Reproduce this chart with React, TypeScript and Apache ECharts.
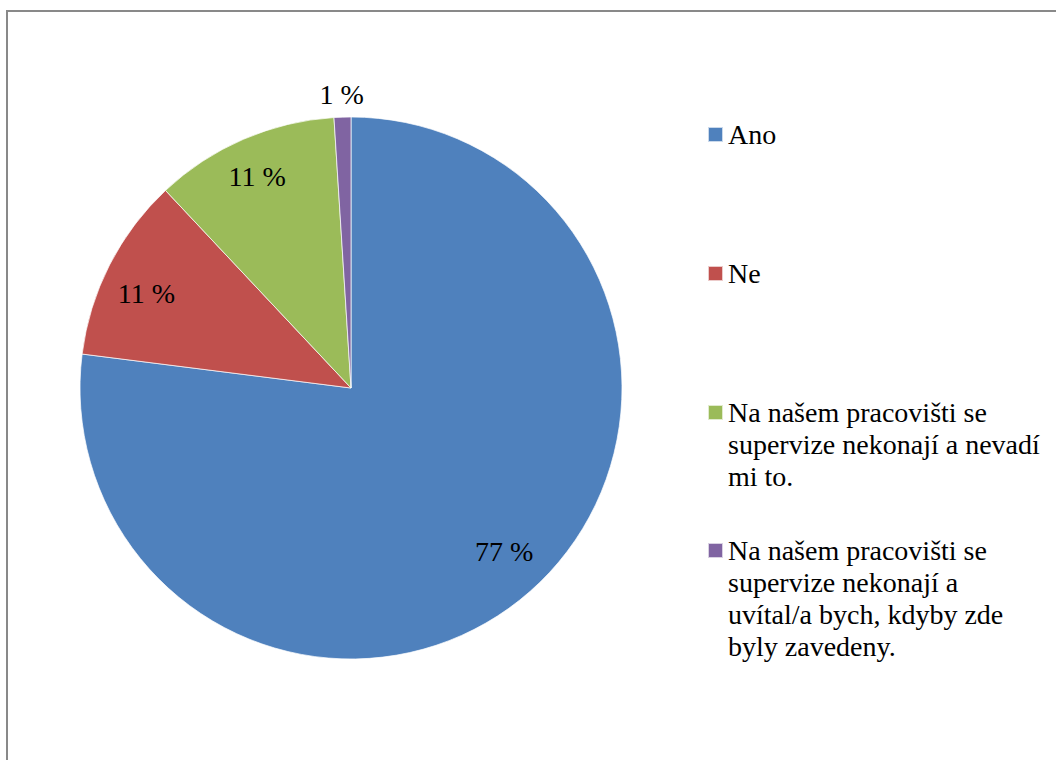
import React, { useEffect, useRef } from "react";
import * as echarts from "echarts";

const categories = [
  "Ano",
  "Ne",
  "Na našem pracovišti se supervize nekonají a nevadí mi to.",
  "Na našem pracovišti se supervize nekonají a uvítal/a bych, kdyby zde byly zavedeny.",
];
const values = [77, 11, 11, 1];
const colors = ["#4F81BD", "#C0504D", "#9BBB59", "#8064A2"];
const legendLines = [
  ["Ano"],
  ["Ne"],
  ["Na našem pracovišti se", "supervize nekonají a nevadí", "mi to."],
  ["Na našem pracovišti se", "supervize nekonají a", "uvítal/a bych, kdyby zde", "byly zavedeny."],
];
// which slices get their label outside the pie
const outsideLabel = [false, false, false, true];

const FONT = "Liberation Serif, Times New Roman, serif";
const FONT_SIZE = 28;
const LINE_H = 32;

export default function App() {
  const ref = useRef<HTMLDivElement>(null);

  useEffect(() => {
    if (!ref.current) return;
    const chart = echarts.init(ref.current, undefined, { renderer: "svg" });

    const cx = 351;
    const cy = 388;
    const R = 271;
    const legendIconCenters = [134.5, 273.5, 412.5, 550.5];
    // small nudges of the data labels (best-fit placement of the original)
    const labelNudge = [
      [2, -8],
      [-1, 9],
      [-3, -2],
      [0, 0],
    ];

    const legends = categories.map((name, i) => {
      const n = legendLines[i].length;
      const h = (2 * n - 1) * LINE_H;
      // blank lines above keep the marker level with the first text line
      const text = new Array(n - 1).fill(" ").concat(legendLines[i]).join("\n");
      return {
        orient: "vertical",
        left: 707,
        top: legendIconCenters[i] - h / 2,
        padding: 0,
        itemWidth: 15,
        itemHeight: 15,
        icon: "rect",
        selectedMode: false,
        data: [{ name, itemStyle: { color: colors[i] } }],
        formatter: () => text,
        textStyle: {
          fontFamily: FONT,
          fontSize: FONT_SIZE,
          lineHeight: LINE_H,
          color: "#000",
        },
      };
    });

    const labelStyle = {
      fontFamily: FONT,
      fontSize: FONT_SIZE,
      color: "#000",
      rotate: 0,
    };

    chart.setOption({
      animation: false,
      backgroundColor: "#fff",
      textStyle: { fontFamily: FONT },
      graphic: [
        {
          type: "rect",
          silent: true,
          shape: { x: 7, y: 11, width: 1100, height: 800 },
          style: { fill: "none", stroke: "#898989", lineWidth: 2 },
        },
      ],
      legend: legends,
      series: [
        {
          type: "pie",
          center: [cx, cy],
          radius: R,
          startAngle: 90,
          clockwise: true,
          silent: true,
          label: { show: false },
          labelLine: { show: false },
          emphasis: { disabled: true },
          itemStyle: { borderColor: "rgba(255,255,255,0.7)", borderWidth: 1 },
          data: categories.map((name, i) => ({
            name,
            value: values[i],
            itemStyle: { color: colors[i] },
          })),
        },
        {
          type: "pie",
          center: [cx, cy],
          radius: [180, R],
          startAngle: 90,
          clockwise: true,
          silent: true,
          legendHoverLink: false,
          emphasis: { disabled: true },
          itemStyle: { color: "transparent" },
          labelLine: { show: false },
          label: {
            ...labelStyle,
            position: "inside",
            formatter: (p: any) => `${p.value} %`,
          },
          data: categories.map((name, i) => ({
            name,
            value: values[i],
            label: { show: !outsideLabel[i], offset: labelNudge[i] },
          })),
        },
        {
          type: "pie",
          center: [cx, cy],
          radius: [R, R + 40],
          startAngle: 90,
          clockwise: true,
          silent: true,
          legendHoverLink: false,
          emphasis: { disabled: true },
          itemStyle: { color: "transparent" },
          labelLine: { show: false },
          label: {
            ...labelStyle,
            position: "inside",
            formatter: (p: any) => `${p.value} %`,
          },
          data: categories.map((name, i) => ({
            name,
            value: values[i],
            label: { show: outsideLabel[i], offset: labelNudge[i] },
          })),
        },
      ],
    });

    return () => chart.dispose();
  }, []);

  return (
    <div
      ref={ref}
      style={{ position: "absolute", left: 0, top: 0, width: 1056, height: 760 }}
    />
  );
}
